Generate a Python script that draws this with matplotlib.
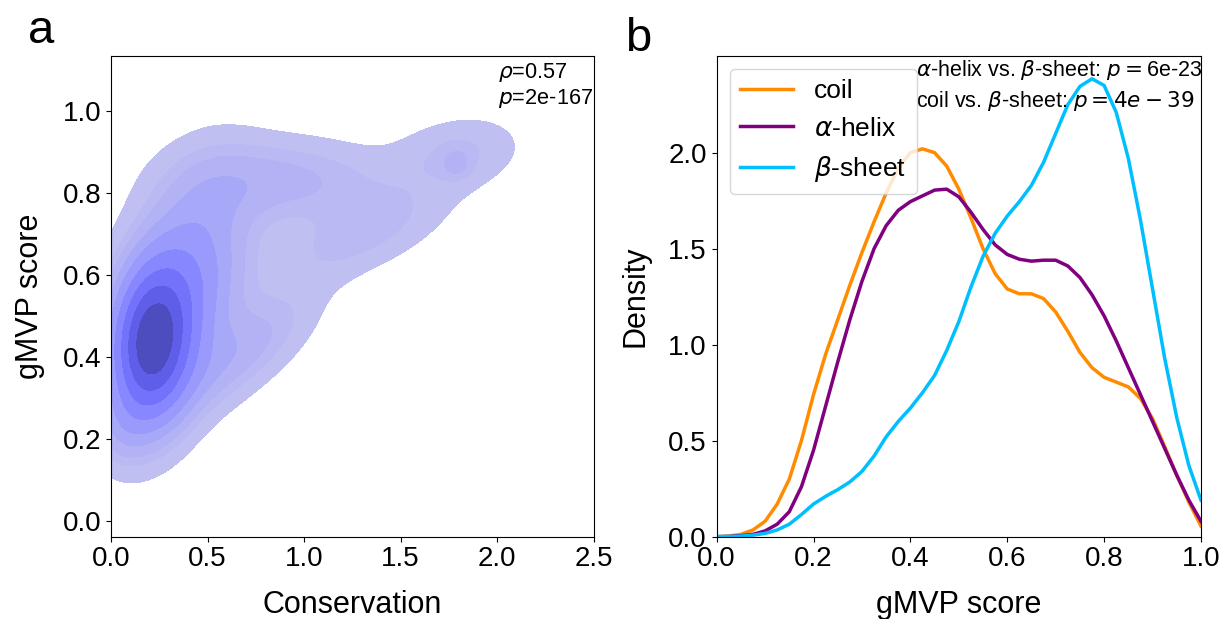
import numpy as np
import matplotlib
matplotlib.use("Agg")
import matplotlib.pyplot as plt
import matplotlib.colors as mcolors
from seaborn.external import husl

plt.rcParams['font.family'] = ['Liberation Sans', 'DejaVu Sans']

# ---- panel a: 2D density, described as gaussian blobs
# columns: centre x, centre y, sd x, sd y, correlation, weight
blob_x = [0.21, 0.35, 0.90, 1.80, 0.70, 1.79, 0.05, 1.30]
blob_y = [0.43, 0.55, 0.83, 0.90, 0.42, 0.87, 0.23, 0.70]
blob_sx = [0.13, 0.22, 0.36, 0.22, 0.25, 0.05, 0.10, 0.30]
blob_sy = [0.12, 0.18, 0.07, 0.06, 0.10, 0.025, 0.07, 0.08]
blob_rho = [0.1, 0.4, 0.0, 0.2, 0.7, 0.0, 0.0, 0.6]
blob_w = [0.30, 0.35, 0.09, 0.03, 0.06, 0.002, 0.015, 0.05]
rho_text = r"$\rho$=0.57"
p_text = r"$p$=2e-167"

# ---- panel b: density curves of gMVP score
score = [0.0, 0.025, 0.05, 0.075, 0.1, 0.125, 0.15, 0.175, 0.2, 0.225, 0.25,
         0.275, 0.3, 0.325, 0.35, 0.375, 0.4, 0.425, 0.45, 0.475, 0.5,
         0.525, 0.55, 0.575, 0.6, 0.625, 0.65, 0.675, 0.7, 0.725, 0.75,
         0.775, 0.8, 0.825, 0.85, 0.875, 0.9, 0.925, 0.95, 0.975, 1.0]
coil = [0.0, 0.003, 0.012, 0.035, 0.08, 0.17, 0.30, 0.50, 0.74, 0.95, 1.13,
        1.31, 1.48, 1.64, 1.79, 1.92, 2.00, 2.02, 2.00, 1.93, 1.81,
        1.66, 1.50, 1.37, 1.29, 1.265, 1.265, 1.24, 1.17, 1.07, 0.96,
        0.88, 0.83, 0.805, 0.78, 0.72, 0.615, 0.47, 0.32, 0.18, 0.055]
helix = [0.0, 0.001, 0.005, 0.012, 0.03, 0.065, 0.13, 0.26, 0.45, 0.68, 0.91,
         1.13, 1.33, 1.50, 1.62, 1.70, 1.745, 1.775, 1.805, 1.81, 1.77,
         1.69, 1.60, 1.52, 1.47, 1.445, 1.435, 1.44, 1.44, 1.41, 1.35,
         1.26, 1.15, 1.02, 0.88, 0.74, 0.60, 0.46, 0.32, 0.19, 0.08]
sheet = [0.0, 0.001, 0.003, 0.008, 0.017, 0.035, 0.065, 0.115, 0.17, 0.21, 0.245,
         0.285, 0.34, 0.42, 0.52, 0.60, 0.67, 0.75, 0.84, 0.97, 1.12,
         1.30, 1.46, 1.58, 1.67, 1.745, 1.83, 1.95, 2.10, 2.25, 2.345,
         2.385, 2.35, 2.21, 1.97, 1.65, 1.29, 0.93, 0.62, 0.37, 0.19]
series_names = ["coil", r"$\alpha$-helix", r"$\beta$-sheet"]
series_colors = ["darkorange", "purple", "deepskyblue"]
note1 = r"$\alpha$-helix vs. $\beta$-sheet: $p=$6e-23"
note2 = r"coil vs. $\beta$-sheet: $p=4e-39$"


def cmap_from_color(color):
    # same ramp seaborn uses for filled bivariate kde
    r, g, b = mcolors.to_rgb(color)
    h, s, _ = husl.rgb_to_husl(r, g, b)
    xx = np.linspace(-1, 1, int(1.15 * 256))[:256]
    ramp = np.zeros((256, 3))
    ramp[:, 0] = h
    ramp[:, 1] = s * np.cos(xx)
    ramp[:, 2] = np.linspace(35, 80, 256)
    cols = np.clip([husl.husl_to_rgb(*hsl) for hsl in ramp], 0, 1)
    return mcolors.ListedColormap(cols[::-1])


def mixture_density(xx, yy):
    dens = np.zeros_like(xx)
    for mx, my, sx, sy, r, w in zip(blob_x, blob_y, blob_sx, blob_sy, blob_rho, blob_w):
        dx = (xx - mx) / sx
        dy = (yy - my) / sy
        q = (dx**2 - 2 * r * dx * dy + dy**2) / (1 - r**2)
        dens += w * np.exp(-0.5 * q) / (2 * np.pi * sx * sy * np.sqrt(1 - r**2))
    return dens


def iso_levels(dens, props):
    vals = np.sort(dens.ravel())[::-1]
    cum = np.cumsum(vals) / vals.sum()
    idx = np.searchsorted(cum, 1 - np.asarray(props))
    return np.take(vals, idx, mode="clip")


fig = plt.figure(figsize=(12.28, 6.19), dpi=100)
ax1 = fig.add_axes([0.0904, 0.133, 0.3931, 0.777])
ax2 = fig.add_axes([0.5836, 0.133, 0.3944, 0.777])

gx = np.linspace(-0.6, 2.8, 300)
gy = np.linspace(-0.3, 1.4, 300)
XX, YY = np.meshgrid(gx, gy)
D = mixture_density(XX, YY)
levels = iso_levels(D, np.linspace(0.05, 1, 10))
ax1.contourf(XX, YY, D, levels=levels, cmap=cmap_from_color("blue"))
ax1.set_xlim(0, 2.5)
ax1.set_ylim(-0.037, 1.135)
ax1.set_xticks([0, 0.5, 1.0, 1.5, 2.0, 2.5])
ax1.set_yticks([0, 0.2, 0.4, 0.6, 0.8, 1.0])
ax1.set_xlabel("Conservation", fontsize=22, labelpad=13)
ax1.set_ylabel("gMVP score", fontsize=22, labelpad=13)
ax1.tick_params(labelsize=20)
ax1.text(0.802, 0.99, rho_text, transform=ax1.transAxes, fontsize=15.7, va="top")
ax1.text(0.802, 0.935, p_text, transform=ax1.transAxes, fontsize=15.7, va="top")

for vals, name, col in zip([coil, helix, sheet], series_names, series_colors):
    ax2.plot(score, vals, color=col, lw=2.5, label=name, solid_joinstyle="round")
ax2.set_xlim(0, 1)
ax2.set_ylim(0, 2.505)
ax2.set_xticks([0, 0.2, 0.4, 0.6, 0.8, 1.0])
ax2.set_yticks([0, 0.5, 1.0, 1.5, 2.0])
ax2.set_xlabel("gMVP score", fontsize=22, labelpad=13)
ax2.set_ylabel("Density", fontsize=22, labelpad=13)
ax2.tick_params(labelsize=20)
ax2.legend(loc="upper left", fontsize=19)
ax2.text(0.4115, 0.995, note1, transform=ax2.transAxes, fontsize=15.5, va="top")
ax2.text(0.4115, 0.93, note2, transform=ax2.transAxes, fontsize=15.5, va="top")

fig.text(0.023, 0.93, "a", fontsize=34)
fig.text(0.509, 0.918, "b", fontsize=34)

fig.savefig("out.png", dpi=100)
